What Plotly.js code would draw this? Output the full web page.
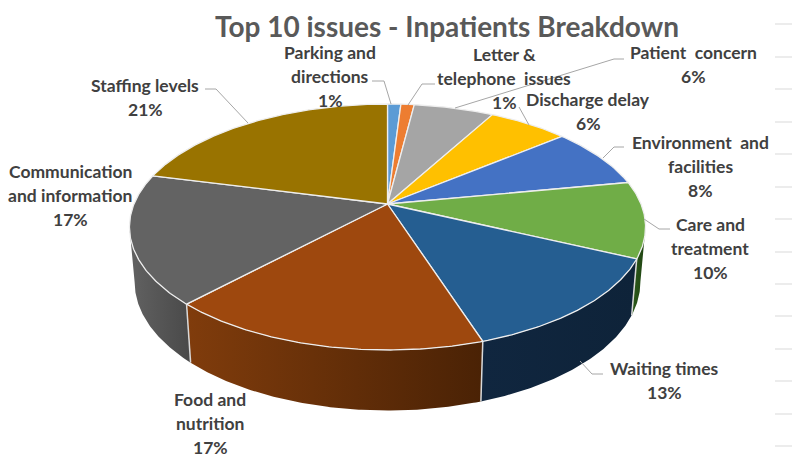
<!DOCTYPE html>
<html>
<head>
<meta charset="utf-8">
<script src="https://cdn.plot.ly/plotly-3.0.1.min.js"></script>
<style>html,body{margin:0;padding:0;background:#fff}#chart{width:792px;height:457px}</style>
</head>
<body>
<div id="chart"></div>
<script>
// Inpatient issues, in clockwise order from twelve o'clock
const categories = ['Parking and directions', 'Letter & telephone issues', 'Patient concern', 'Discharge delay',
  'Environment and facilities', 'Care and treatment', 'Waiting times', 'Food and nutrition',
  'Communication and information', 'Staffing levels'];
const shares = [1, 1, 6, 6, 8, 10, 13, 17, 17, 21];
const faceColors = ['#5b9bd5', '#ed7d31', '#a5a5a5', '#ffc000', '#4472c4', '#70ad47', '#255e91', '#9e480e', '#636363', '#997300'];
// Rim shading, left colour then right colour
const rimColors = [null, null, null, null, null, ['#2c5a1a', '#1f4212'], ['#10263f', '#0e2339'], ['#803c0c', '#4a2205'], ['#626262', '#494949'], null];

// Label text lines and their anchor (centre x, first row y)
const labelLines = [
  ['Parking and', 'directions', '1%'], ['Letter &', 'telephone  issues', '1%'], ['Patient  concern', '6%'],
  ['Discharge delay', '6%'], ['Environment  and', 'facilities', '8%'], ['Care and', 'treatment', '10%'],
  ['Waiting times', '13%'], ['Food and', 'nutrition', '17%'], ['Communication', 'and information', '17%'], ['Staffing levels', '21%']
];
const labelCentres = [330, 504, 693, 588, 700, 710, 664, 210, 70, 145];
const labelTops = [52, 54, 52, 99, 142, 224, 368, 399, 171, 85];
const labelStep = 24.3;

// Leader polylines, one SVG path per label that has a leader
const leaders = ['M205,89 L216,89 L248,123', 'M372,81 L384,81 L391,104', 'M435,84 L422,84 L408,105',
  'M624,59 L614,59 L455,108', 'M519,107 L529,125', 'M624,147 L614,147 L603,158',
  'M644,219 L659,229 L670,229', 'M580,361 L592,374 L603,374'];

// Stub gridlines along the right edge
const stubRows = [24, 57, 89, 122, 154, 187, 219, 252, 284, 316, 349, 381, 414, 446];

// Perspective of the tilted disc
const cx = 387.5, cyTop = 204, cyBase = 258;
const radius = 253.5, heightTop = 118.7, heightBase = 124, tilt = 0.187, baseShrink = 0.98;

function project(deg, cy, h, f) {
  const a = deg * Math.PI / 180, X = Math.sin(a), Y = -Math.cos(a), s = 1 / (1 - tilt * Y);
  return [cx + f * radius * X * s, cy + h * Y * s];
}
function arc(from, to, cy, h, f) {
  const n = Math.max(2, Math.ceil(Math.abs(to - from) * 2)), pts = [];
  for (let i = 0; i <= n; i++) pts.push(project(from + (to - from) * i / n, cy, h, f));
  return pts;
}
const total = shares.reduce((a, b) => a + b, 0);
const starts = [];
shares.reduce((acc, v, i) => { starts[i] = acc; return acc + v; }, 0);
const deg = v => v / total * 360;

// The rim is visible between the two side tangents of the disc
const visFrom = 90 + Math.asin(tilt) * 180 / Math.PI, visTo = 270 - Math.asin(tilt) * 180 / Math.PI;
const traces = [];

shares.forEach((v, i) => {
  if (!rimColors[i]) return;
  const a0 = Math.max(deg(starts[i]), visFrom), a1 = Math.min(deg(starts[i] + v), visTo);
  const pts = arc(a0, a1, cyTop, heightTop, 1).concat(arc(a1, a0, cyBase, heightBase, baseShrink));
  pts.push(pts[0]);
  traces.push({
    type: 'scatter', mode: 'lines', name: categories[i] + ' rim',
    x: pts.map(p => p[0]), y: pts.map(p => p[1]),
    fill: 'toself', line: {width: 0, color: rimColors[i][0]},
    fillgradient: {type: 'horizontal', colorscale: [[0, rimColors[i][0]], [1, rimColors[i][1]]]},
    hoverinfo: 'skip'
  });
});

// Pale seams where rim sections meet
shares.forEach((v, i) => {
  const a = deg(starts[i]);
  if (a <= visFrom || a >= visTo) return;
  const t = project(a, cyTop, heightTop, 1), b = project(a, cyBase, heightBase, baseShrink);
  traces.push({type: 'scatter', mode: 'lines', x: [t[0], b[0]], y: [t[1], b[1]],
    line: {color: '#d9d9d9', width: 1.5}, hoverinfo: 'skip'});
});

// Top face of every slice
shares.forEach((v, i) => {
  const pts = [[cx, cyTop]].concat(arc(deg(starts[i]), deg(starts[i] + v), cyTop, heightTop, 1));
  pts.push([cx, cyTop]);
  traces.push({
    type: 'scatter', mode: 'lines', name: categories[i],
    x: pts.map(p => p[0]), y: pts.map(p => p[1]),
    fill: 'toself', fillcolor: faceColors[i],
    line: {color: '#eeeeee', width: 1.3}, hoverinfo: 'skip'
  });
});

const annotations = [{
  text: 'Top 10 issues - Inpatients Breakdown', x: 447, y: 26, xref: 'x', yref: 'y', showarrow: false,
  font: {family: 'Lato, sans-serif', size: 28, color: '#595959', weight: 700}
}];
labelLines.forEach((lines, i) => lines.forEach((line, r) => annotations.push({
  text: line, x: labelCentres[i], y: labelTops[i] + r * labelStep, xref: 'x', yref: 'y', showarrow: false,
  font: {family: 'Lato, sans-serif', size: 17.5, color: '#404040', weight: 700}
})));

const shapes = leaders.map(path => ({type: 'path', path, xref: 'x', yref: 'y', layer: 'above',
  line: {color: '#a6a6a6', width: 1}}));
stubRows.forEach(y => shapes.push({type: 'line', xref: 'x', yref: 'y', x0: 775, x1: 792, y0: y, y1: y,
  layer: 'below', line: {color: '#d9d9d9', width: 1}}));

Plotly.newPlot('chart', traces, {
  width: 792, height: 457, margin: {l: 0, r: 0, t: 0, b: 0},
  paper_bgcolor: '#ffffff', plot_bgcolor: '#ffffff', showlegend: false,
  xaxis: {range: [0, 792], visible: false, fixedrange: true},
  yaxis: {range: [457, 0], visible: false, fixedrange: true},
  annotations, shapes
}, {displayModeBar: false, staticPlot: true});
</script>
</body>
</html>
